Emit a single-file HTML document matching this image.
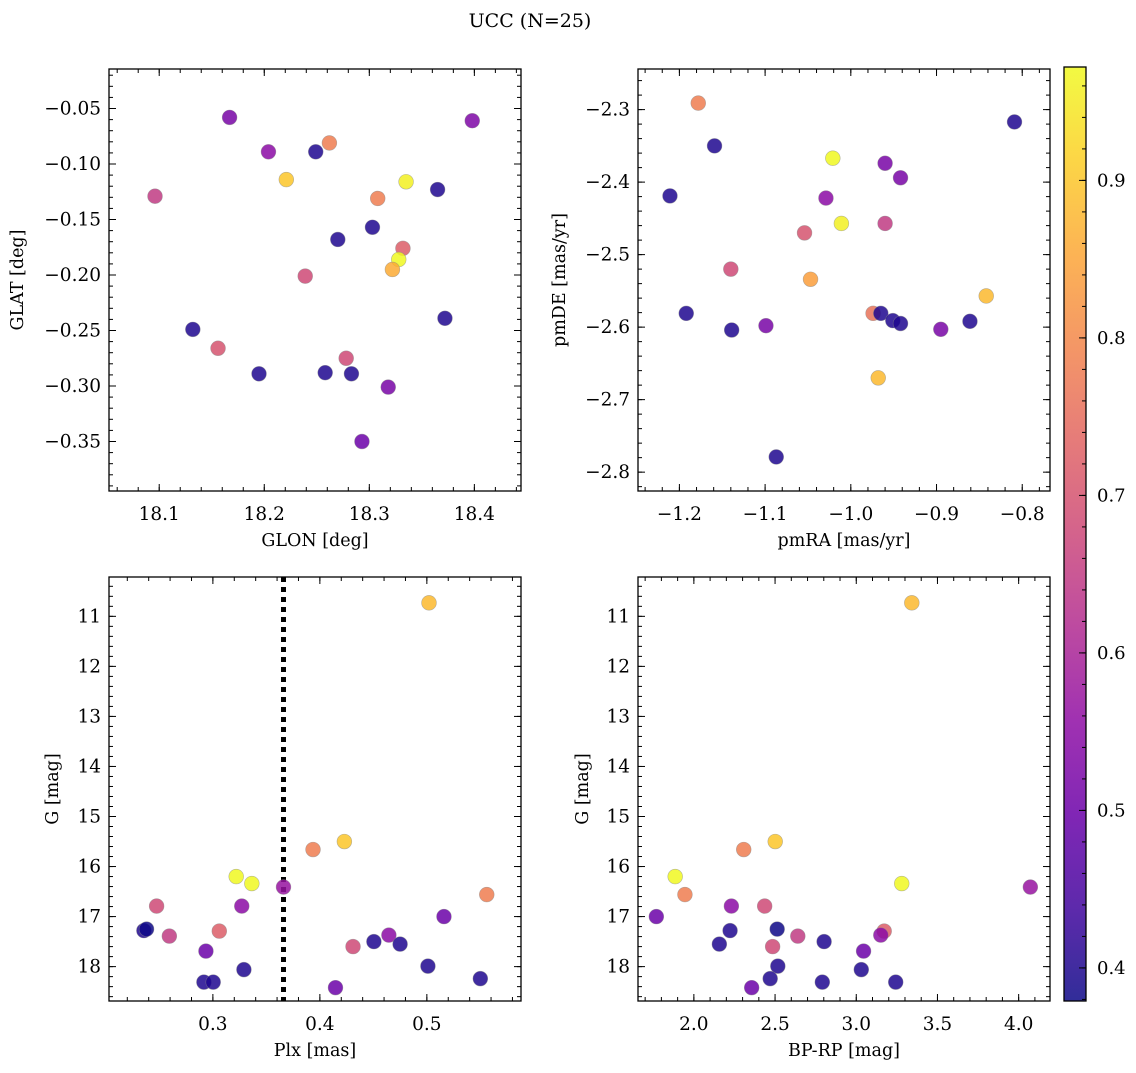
<!DOCTYPE html>
<html><head><meta charset="utf-8">
<style>
html,body{margin:0;padding:0;background:#fff;}
svg text{font-family:"DejaVu Serif","Liberation Serif",serif;fill:#000;}
</style></head>
<body>
<svg id="fig" width="1136" height="1068" viewBox="0 0 1136 1068" xmlns="http://www.w3.org/2000/svg">
<text x="530" y="27" font-size="19" text-anchor="middle">UCC (N=25)</text>
</svg>
<script>
// ---- data: panel 1 (GLON / GLAT)
const glon = [18.096,18.167,18.204,18.249,18.262,18.221,18.335,18.398,18.365,18.308,18.303,18.270,18.332,18.328,18.322,18.239,18.132,18.372,18.156,18.195,18.258,18.283,18.278,18.318,18.293];
const glat = [-0.129,-0.058,-0.089,-0.089,-0.081,-0.114,-0.116,-0.061,-0.123,-0.131,-0.157,-0.168,-0.176,-0.186,-0.195,-0.201,-0.249,-0.239,-0.266,-0.289,-0.288,-0.289,-0.275,-0.301,-0.350];
const prob1 = [0.65,0.52,0.55,0.40,0.78,0.90,0.96,0.53,0.40,0.78,0.40,0.40,0.72,0.97,0.86,0.68,0.40,0.40,0.70,0.40,0.40,0.40,0.68,0.52,0.50];
// ---- panel 2 (pmRA / pmDE)
const pmra = [-1.178,-0.809,-1.159,-1.211,-1.021,-0.960,-0.942,-1.029,-1.011,-0.960,-1.054,-1.140,-1.047,-0.842,-1.192,-0.974,-0.965,-0.951,-0.942,-0.861,-1.099,-1.139,-0.895,-0.968,-1.087];
const pmde = [-2.291,-2.317,-2.350,-2.419,-2.367,-2.374,-2.394,-2.422,-2.457,-2.457,-2.470,-2.520,-2.534,-2.557,-2.581,-2.581,-2.581,-2.591,-2.595,-2.592,-2.598,-2.604,-2.603,-2.670,-2.779];
const prob2 = [0.78,0.40,0.40,0.40,0.97,0.52,0.52,0.55,0.96,0.65,0.70,0.68,0.84,0.88,0.40,0.76,0.40,0.40,0.40,0.40,0.52,0.40,0.52,0.88,0.40];
// ---- panel 3 & 4 (Plx, BP-RP, G)
const plx = [0.502,0.3936,0.4229,0.3218,0.3364,0.366,0.556,0.2474,0.327,0.516,0.2355,0.238,0.2593,0.306,0.4645,0.4505,0.475,0.431,0.2935,0.329,0.501,0.55,0.2916,0.3003,0.4146];
const bprp = [3.342,2.307,2.501,1.885,3.280,4.072,1.945,2.436,2.231,1.769,2.223,2.513,2.640,3.172,3.151,2.802,2.157,2.485,3.045,3.031,2.517,2.470,2.791,3.243,2.356];
const gmag = [10.73,15.66,15.50,16.20,16.34,16.41,16.56,16.79,16.79,17.00,17.28,17.25,17.39,17.29,17.37,17.50,17.55,17.60,17.69,18.06,17.99,18.24,18.31,18.31,18.42];
const prob3 = [0.88,0.78,0.90,0.97,0.97,0.57,0.78,0.68,0.55,0.50,0.40,0.38,0.65,0.72,0.55,0.40,0.40,0.68,0.50,0.40,0.40,0.40,0.40,0.40,0.50];
const plxLine = [0.366];
// ---- tick labels
const ticks1x = [18.1,18.2,18.3,18.4], ticks1y = [-0.05,-0.10,-0.15,-0.20,-0.25,-0.30,-0.35];
const ticks2x = [-1.2,-1.1,-1.0,-0.9,-0.8], ticks2y = [-2.3,-2.4,-2.5,-2.6,-2.7,-2.8];
const ticks3x = [0.3,0.4,0.5], ticksG = [11,12,13,14,15,16,17,18];
const ticks4x = [2.0,2.5,3.0,3.5,4.0];
const cbTicks = [0.4,0.5,0.6,0.7,0.8,0.9];

const NS="http://www.w3.org/2000/svg";
const svg=document.getElementById('fig');
function mk(tag,attrs,parent){const e=document.createElementNS(NS,tag);for(const k in attrs)e.setAttribute(k,attrs[k]);(parent||svg).appendChild(e);return e;}
const VMIN=0.379,VMAX=0.972;
const stops=[[13,8,135],[65,4,157],[106,0,168],[143,13,164],[177,42,144],[204,71,120],[225,100,98],[242,132,75],[252,166,54],[252,206,37],[240,249,33]];
function plasma(v){let t=(v-VMIN)/(VMAX-VMIN);t=Math.max(0,Math.min(1,t))*10;const i=Math.min(9,Math.floor(t)),f=t-i;const a=stops[i],b=stops[i+1];return `rgb(${Math.round(a[0]+(b[0]-a[0])*f)},${Math.round(a[1]+(b[1]-a[1])*f)},${Math.round(a[2]+(b[2]-a[2])*f)})`;}
function fmt(v,d){return (v<0?'\u2212':'')+Math.abs(v).toFixed(d);}

function panel(o){
  const g=mk('g',{});
  
  
  const sx=v=>o.x0+(v-o.xmin)/(o.xmax-o.xmin)*(o.x1-o.x0);
  const sy=o.invert? (v=>o.y0+(v-o.ymin)/(o.ymax-o.ymin)*(o.y1-o.y0)) : (v=>o.y1-(v-o.ymin)/(o.ymax-o.ymin)*(o.y1-o.y0));
  const tk=mk('g',{stroke:'#000','stroke-width':1},g);
  
  
  function ticksX(step,len){const s=Math.ceil(o.xmin/step-1e-6);for(let k=s;k*step<=o.xmax+1e-9;k++){const x=sx(k*step);mk('line',{x1:x,x2:x,y1:o.y1,y2:o.y1-len},tk);mk('line',{x1:x,x2:x,y1:o.y0,y2:o.y0+len},tk);}}
  function ticksY(step,len){const lo=Math.min(o.ymin,o.ymax),hi=Math.max(o.ymin,o.ymax);const s=Math.ceil(lo/step-1e-6);for(let k=s;k*step<=hi+1e-9;k++){const y=sy(k*step);mk('line',{x1:o.x0,x2:o.x0+len,y1:y,y2:y},tk);mk('line',{x1:o.x1,x2:o.x1-len,y1:y,y2:y},tk);}}
  ticksX(o.xminor,4);ticksX(o.xmajor,7);ticksY(o.yminor,4);ticksY(o.ymajor,7);
  o.xt.forEach(v=>{const t=mk('text',{x:sx(v),y:o.y1+29,'font-size':18.5,'text-anchor':'middle'},g);t.textContent=fmt(v,o.xd);});
  o.yt.forEach(v=>{const t=mk('text',{x:o.x0-8,y:sy(v)+6,'font-size':18.5,'text-anchor':'end'},g);t.textContent=fmt(v,o.yd);});
  const xl=mk('text',{x:(o.x0+o.x1)/2,y:o.y1+55,'font-size':17.5,'text-anchor':'middle'},g);xl.textContent=o.xlabel;
  
  const yl=mk('text',{x:0,y:0,'font-size':17.5,'text-anchor':'middle',transform:`translate(${o.ylx},${(o.y0+o.y1)/2}) rotate(-90)`},g);yl.textContent=o.ylabel;
  
  if(o.vline){o.vline.forEach(v=>{const l=mk('line',{x1:sx(v),x2:sx(v),y1:o.y0,y2:o.y1,stroke:'#000','stroke-width':5,'stroke-dasharray':'5,5'},g);});}
  o.xs.forEach((v,i)=>{const c=mk('circle',{cx:sx(v),cy:sy(o.ys[i]),r:7.4,fill:plasma(o.c[i]),'fill-opacity':0.85,stroke:'#888','stroke-opacity':0.6,'stroke-width':0.6},g);
    });
  const fr=mk('rect',{x:o.x0,y:o.y0,width:o.x1-o.x0,height:o.y1-o.y0,fill:'none',stroke:'#000','stroke-width':1.3},g);
  
}
panel({name:'glon-glat-panel',x0:109,x1:521,y0:69,y1:491,xmin:18.0522,xmax:18.4444,ymin:-0.3946,ymax:-0.0144,xmajor:0.1,xminor:0.02,ymajor:0.05,yminor:0.01,xt:ticks1x,yt:ticks1y,xd:1,yd:2,xlabel:'GLON [deg]',ylabel:'GLAT [deg]',ylx:23,xs:glon,ys:glat,c:prob1});
panel({name:'pm-panel',x0:638,x1:1050,y0:69,y1:491,xmin:-1.2483,xmax:-0.7676,ymin:-2.826,ymax:-2.244,xmajor:0.1,xminor:0.02,ymajor:0.1,yminor:0.02,xt:ticks2x,yt:ticks2y,xd:1,yd:1,xlabel:'pmRA [mas/yr]',ylabel:'pmDE [mas/yr]',ylx:565,xs:pmra,ys:pmde,c:prob2});
panel({name:'plx-g-panel',x0:109,x1:521,y0:577,y1:1001,xmin:0.2029,xmax:0.588,ymin:10.214,ymax:18.687,invert:true,xmajor:0.1,xminor:0.02,ymajor:1,yminor:0.2,xt:ticks3x,yt:ticksG,xd:1,yd:0,xlabel:'Plx [mas]',ylabel:'G [mag]',ylx:58,xs:plx,ys:gmag,c:prob3,vline:plxLine});
panel({name:'cmd-panel',x0:638,x1:1050,y0:577,y1:1001,xmin:1.656,xmax:4.193,ymin:10.214,ymax:18.687,invert:true,xmajor:0.5,xminor:0.1,ymajor:1,yminor:0.2,xt:ticks4x,yt:ticksG,xd:1,yd:0,xlabel:'BP-RP [mag]',ylabel:'G [mag]',ylx:588,xs:bprp,ys:gmag,c:prob3});

// colorbar
const cb=mk('g',{});


const defs=mk('defs',{},svg);
const lg=mk('linearGradient',{id:'plg',x1:0,y1:1,x2:0,y2:0},defs);
for(let i=0;i<=20;i++){const v=VMIN+(VMAX-VMIN)*i/20;mk('stop',{offset:(i/20),'stop-color':plasma(v),'stop-opacity':0.85},lg);}
const CX0=1064,CX1=1086,CY0=67,CY1=1001;
const cy=v=>CY1-(v-VMIN)/(VMAX-VMIN)*(CY1-CY0);
mk('rect',{x:CX0,y:CY0,width:CX1-CX0,height:CY1-CY0,fill:'url(#plg)',stroke:'#000','stroke-width':1.3},cb);
for(let k=Math.ceil(VMIN/0.02);k*0.02<=VMAX;k++){const y=cy(k*0.02);mk('line',{x1:CX1,x2:CX1-4,y1:y,y2:y,stroke:'#000','stroke-width':1},cb);}
cbTicks.forEach(v=>{const y=cy(v);mk('line',{x1:CX1,x2:CX1-7,y1:y,y2:y,stroke:'#000','stroke-width':1},cb);
  const t=mk('text',{x:CX1+11,y:y+6,'font-size':18},cb);t.textContent=v.toFixed(1);});
</script>
</body></html>
